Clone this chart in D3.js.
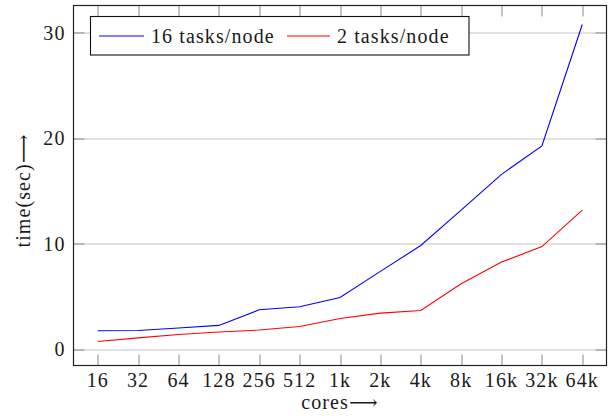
<!DOCTYPE html>
<html>
<head>
<meta charset="utf-8">
<script src="https://cdn.jsdelivr.net/npm/d3@7"></script>
<style>
  body { margin: 0; background: #fff; }
  text { font-family: "Liberation Serif", "DejaVu Serif", serif; fill: #1a1a1a; letter-spacing: 1.1px; }
</style>
</head>
<body>
<div id="chart"></div>
<script>
// data
var cores = ["16", "32", "64", "128", "256", "512", "1k", "2k", "4k", "8k", "16k", "32k", "64k"];
var tasks16 = [1.77, 1.8, 2.03, 2.28, 3.76, 4.05, 4.93, 7.4, 9.85, 13.2, 16.6, 19.3, 30.8];
var tasks2 = [0.76, 1.1, 1.42, 1.65, 1.84, 2.18, 2.94, 3.44, 3.7, 6.22, 8.28, 9.75, 13.2];
var yTicks = [0, 10, 20, 30];
var seriesNames = ["16 tasks/node", "2 tasks/node"];
var seriesColors = ["#0000ff", "#ff0000"];

var W = 611, H = 416;
var margin = {top: 5.5, right: 4.5, bottom: 50.5, left: 73.5};
var w = W - margin.left - margin.right,
    h = H - margin.top - margin.bottom;
var fs = 20;

var svg = d3.select("#chart").append("svg")
  .attr("width", W).attr("height", H);

var g = svg.append("g")
  .attr("transform", "translate(" + margin.left + "," + margin.top + ")");

var x = d3.scalePoint().domain(cores).range([0, w]).padding(0.6);
var y = d3.scaleLinear().domain([-1.52, 32.6]).range([h, 0]);

// horizontal grid
g.append("g").selectAll("line").data(yTicks).enter().append("line")
  .attr("x1", 0).attr("x2", w)
  .attr("y1", function(d){ return Math.round(y(d)) + 0.5; })
  .attr("y2", function(d){ return Math.round(y(d)) + 0.5; })
  .attr("stroke", "#c4c4c4").attr("stroke-width", 1);

// inner tick marks (all four sides)
var tl = 11;
var ticks = g.append("g").attr("stroke", "#8a8a8a").attr("stroke-width", 1);
cores.forEach(function(c){
  var xx = Math.round(x(c)) + 0.5;
  ticks.append("line").attr("x1", xx).attr("x2", xx).attr("y1", h).attr("y2", h - tl);
  ticks.append("line").attr("x1", xx).attr("x2", xx).attr("y1", 0).attr("y2", tl);
});
yTicks.forEach(function(v){
  var yy = Math.round(y(v)) + 0.5;
  ticks.append("line").attr("x1", 0).attr("x2", tl).attr("y1", yy).attr("y2", yy);
  ticks.append("line").attr("x1", w).attr("x2", w - tl).attr("y1", yy).attr("y2", yy);
});

// tick labels
g.append("g").selectAll("text").data(cores).enter().append("text")
  .attr("x", function(d){ return x(d); })
  .attr("y", h + 21.5)
  .attr("text-anchor", "middle")
  .attr("font-size", fs)
  .text(function(d){ return d; });

g.append("g").selectAll("text").data(yTicks).enter().append("text")
  .attr("x", -8)
  .attr("y", function(d){ return y(d) + 6.7; })
  .attr("text-anchor", "end")
  .attr("font-size", fs)
  .text(function(d){ return d; });

// lines
var line = d3.line()
  .x(function(d, i){ return x(cores[i]); })
  .y(function(d){ return y(d); });

[tasks16, tasks2].forEach(function(s, i){
  g.append("path").datum(s)
    .attr("d", line)
    .attr("fill", "none")
    .attr("stroke", seriesColors[i])
    .attr("stroke-width", 1.1);
});

// frame
g.append("rect")
  .attr("x", 0).attr("y", 0).attr("width", w).attr("height", h)
  .attr("fill", "none").attr("stroke", "#222").attr("stroke-width", 1.2);

// axis labels
svg.append("text")
  .attr("x", margin.left + w / 2).attr("y", 409)
  .attr("text-anchor", "middle").attr("font-size", fs)
  .text("cores\u27F6");

svg.append("text")
  .attr("transform", "translate(30," + (margin.top + h / 2 + 5) + ") rotate(-90)")
  .attr("text-anchor", "middle").attr("font-size", fs)
  .text("time(sec)\u27F6");

// legend
var leg = svg.append("g");
leg.append("rect")
  .attr("x", 90.5).attr("y", 16.5).attr("width", 378.5).attr("height", 38.5)
  .attr("fill", "#fff").attr("stroke", "#111").attr("stroke-width", 1.1);
var legX = [[99, 144, 151], [287, 330, 337]];
seriesNames.forEach(function(n, i){
  leg.append("line")
    .attr("x1", legX[i][0]).attr("x2", legX[i][1])
    .attr("y1", 36).attr("y2", 36)
    .attr("stroke", seriesColors[i]).attr("stroke-width", 1.1);
  leg.append("text")
    .attr("x", legX[i][2]).attr("y", 42.5)
    .attr("font-size", fs)
    .text(n);
});
</script>
</body>
</html>
